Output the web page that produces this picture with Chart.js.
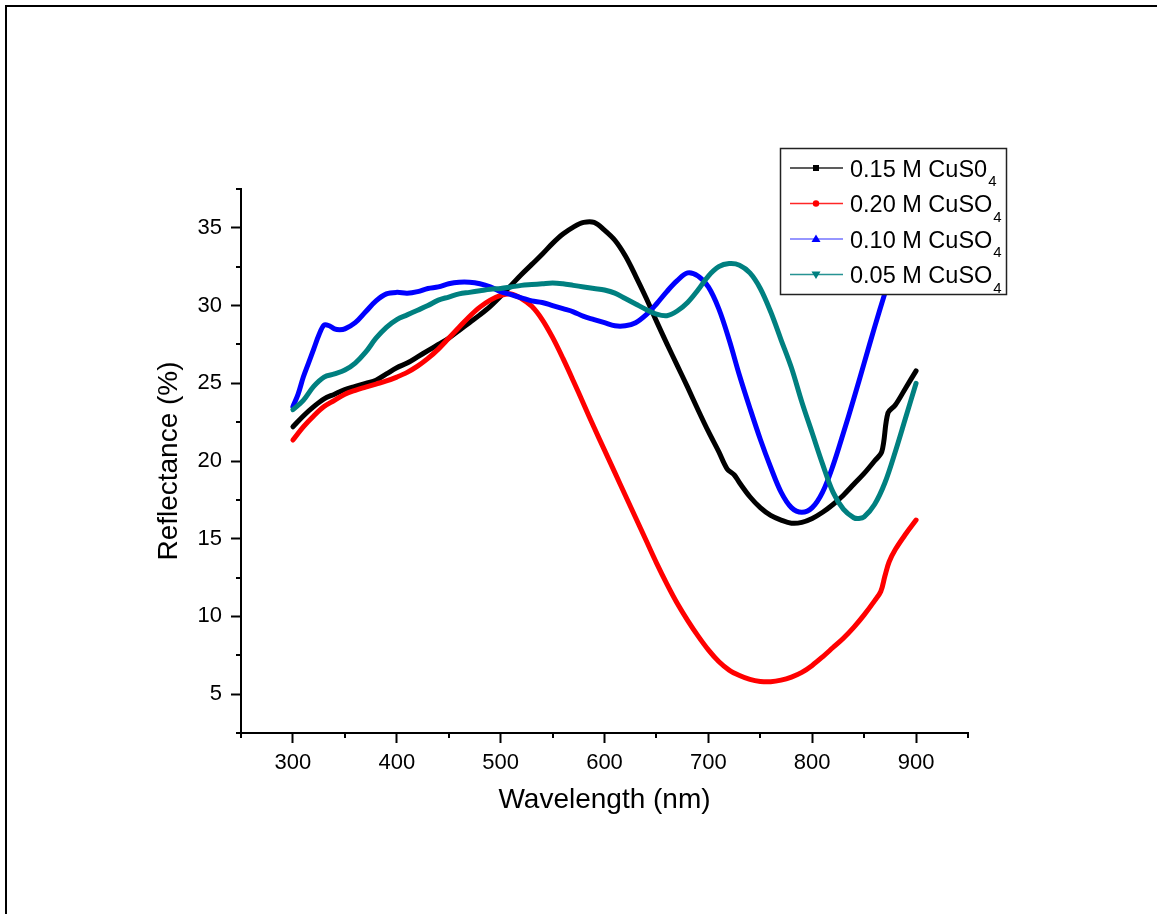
<!DOCTYPE html>
<html><head><meta charset="utf-8">
<script src="https://cdn.jsdelivr.net/npm/chart.js@4.4.1/dist/chart.umd.min.js"></script>
<style>html,body{margin:0;padding:0;background:#fff;} canvas{display:block;}</style>
</head><body>
<canvas id="c" width="1157" height="914"></canvas>
<script>
// ---- data ----
const labelsBase = ['0.15 M CuS0', '0.20 M CuSO', '0.10 M CuSO', '0.05 M CuSO'];
const labelsSub = ['4', '4', '4', '4'];
const seriesColors = ['#000000', '#ff0000', '#0000ff', '#008080'];

const blackX = [300,310,320,330,340,350,360,370,380,390,400,410,420,430,440,450,460,470,480,490,500,510,520,530,540,550,560,570,580,590,600,610,620,630,640,650,660,670,680,690,700,710,718,725,730,740,750,760,770,780,790,800,810,820,830,840,850,860,867,873,880,890,900];
const blackY = [22.2,22.9,23.5,24.0,24.3,24.6,24.8,25.0,25.2,25.6,26.0,26.3,26.7,27.1,27.5,27.9,28.4,28.9,29.4,29.95,30.6,31.3,32.0,32.65,33.3,34.0,34.6,35.05,35.35,35.35,34.85,34.2,33.2,31.9,30.5,29.0,27.55,26.15,24.75,23.3,21.9,20.6,19.5,19.1,18.6,17.7,17.0,16.5,16.2,16.0,16.05,16.3,16.7,17.2,17.8,18.5,19.2,20.0,20.6,23.1,23.6,24.7,25.8];

const redX = [300,310,320,330,340,350,360,370,380,390,400,410,420,430,440,450,460,470,480,490,500,510,520,530,540,550,560,570,580,590,600,610,620,630,640,650,660,670,680,690,700,710,720,730,740,750,760,770,780,790,800,810,820,830,840,850,860,866,870,874,880,890,900];
const redY = [21.35,22.2,22.9,23.5,23.9,24.3,24.55,24.75,24.95,25.15,25.4,25.7,26.1,26.6,27.2,27.9,28.6,29.3,29.9,30.35,30.65,30.75,30.45,29.95,29.1,27.95,26.6,25.15,23.65,22.15,20.7,19.25,17.8,16.35,14.9,13.45,12.1,10.85,9.75,8.75,7.85,7.1,6.55,6.2,5.95,5.82,5.8,5.9,6.1,6.4,6.85,7.4,8.0,8.6,9.3,10.1,11.0,11.6,12.6,13.5,14.3,15.3,16.2];

const blueX = [300,305,310,315,320,325,330,335,340,345,350,360,370,380,390,400,410,420,430,440,450,460,470,480,490,500,510,520,530,540,550,560,570,580,590,600,610,620,630,640,650,660,670,680,690,700,710,720,730,740,750,760,770,780,790,800,810,820,830,840,850,860,870,880,890,900];
const blueY = [23.5,24.3,25.4,26.3,27.2,28.1,28.75,28.7,28.5,28.45,28.5,28.9,29.6,30.3,30.75,30.85,30.8,30.9,31.1,31.2,31.4,31.5,31.5,31.4,31.2,30.9,30.7,30.5,30.3,30.2,30.0,29.8,29.6,29.3,29.1,28.9,28.7,28.7,28.9,29.4,30.1,30.9,31.6,32.1,31.9,31.2,29.8,27.8,25.5,23.4,21.4,19.6,18.0,17.0,16.7,17.0,18.0,19.7,21.8,24.0,26.3,28.6,30.8,32.9,34.9,36.8];

const tealX = [300,310,320,330,340,350,360,370,380,390,400,410,420,430,440,450,460,470,480,490,500,510,520,530,540,550,560,570,580,590,600,610,620,630,640,650,660,670,680,690,700,710,720,730,740,750,760,770,780,790,800,810,820,830,840,845,850,860,870,880,890,900];
const tealY = [23.3,23.9,24.8,25.4,25.6,25.85,26.3,27.0,27.9,28.6,29.1,29.4,29.7,30.0,30.35,30.55,30.75,30.85,30.95,31.05,31.1,31.2,31.3,31.35,31.4,31.45,31.4,31.3,31.2,31.1,31.0,30.8,30.45,30.1,29.75,29.45,29.35,29.65,30.2,31.0,31.9,32.5,32.7,32.6,32.1,31.1,29.6,27.8,26.0,23.8,21.8,19.8,18.0,16.9,16.35,16.3,16.4,17.2,18.6,20.6,22.8,25.0];

const xMajorTicks = [300,400,500,600,700,800,900];
const yMajorTicks = [5,10,15,20,25,30,35];

const seriesX = [blackX, redX, blueX, tealX];
const seriesY = [blackY, redY, blueY, tealY];

const FONT = '"Liberation Sans", Arial, sans-serif';

function pts(xs, ys) { return xs.map((x, i) => ({x: x, y: ys[i]})); }

const datasets = seriesX.map((xs, i) => ({
  label: labelsBase[i] + '\u2084',
  data: pts(xs, seriesY[i]),
  borderColor: seriesColors[i],
  backgroundColor: seriesColors[i],
  borderWidth: 5,
  pointRadius: 0,
  tension: 0.35,
  borderJoinStyle: 'round',
  borderCapStyle: 'round',
  fill: false,
  order: 4 - i
}));

const framePlugin = {
  id: 'frame',
  beforeDraw(chart) {
    const ctx = chart.ctx;
    ctx.save();
    ctx.fillStyle = '#fff';
    ctx.fillRect(0, 0, chart.width, chart.height);
    ctx.fillStyle = '#000';
    ctx.fillRect(5, 5, chart.width - 5, 2);
    ctx.fillRect(5, 5, 2, chart.height - 5);
    ctx.restore();
  }
};

const minorTickPlugin = {
  id: 'minorTicks',
  afterDraw(chart) {
    const ctx = chart.ctx, xs = chart.scales.x, ys = chart.scales.y;
    ctx.save();
    ctx.strokeStyle = '#000';
    ctx.lineWidth = 2;
    xs.ticks.forEach(t => {
      if (!xMajorTicks.includes(t.value)) {
        const px = Math.round(xs.getPixelForValue(t.value));
        ctx.beginPath(); ctx.moveTo(px, xs.top); ctx.lineTo(px, xs.top + 5); ctx.stroke();
      }
    });
    ys.ticks.forEach(t => {
      if (!yMajorTicks.some(v => Math.abs(v - t.value) < 1e-6)) {
        const py = Math.round(ys.getPixelForValue(t.value));
        ctx.beginPath(); ctx.moveTo(ys.right, py); ctx.lineTo(ys.right - 5, py); ctx.stroke();
      }
    });
    ctx.restore();
  }
};

const legendPlugin = {
  id: 'customLegend',
  afterDraw(chart) {
    const ctx = chart.ctx;
    const bx = 780, by = 148, bw = 226, bh = 146;
    ctx.save();
    ctx.fillStyle = '#fff';
    ctx.fillRect(bx, by, bw, bh);
    ctx.strokeStyle = '#222';
    ctx.lineWidth = 1.5;
    ctx.strokeRect(bx + 0.5, by + 0.5, bw, bh);
    const rowY = [168, 203.5, 239, 274.5];
    chart.data.datasets.forEach((ds, i) => {
      const y = rowY[i];
      const col = ds.borderColor;
      ctx.strokeStyle = col;
      ctx.globalAlpha = (i === 2) ? 0.55 : 0.85;
      ctx.lineWidth = 1.5;
      ctx.beginPath(); ctx.moveTo(790, y); ctx.lineTo(843, y); ctx.stroke();
      ctx.globalAlpha = 1;
      ctx.fillStyle = col;
      const cx = 816;
      ctx.beginPath();
      if (i === 0) { ctx.rect(cx - 3, y - 3, 6, 6); }
      else if (i === 1) { ctx.arc(cx, y, 3.2, 0, Math.PI * 2); }
      else if (i === 2) { ctx.moveTo(cx, y - 4.5); ctx.lineTo(cx + 4.5, y + 3); ctx.lineTo(cx - 4.5, y + 3); ctx.closePath(); }
      else { ctx.moveTo(cx, y + 4.5); ctx.lineTo(cx + 4.5, y - 3); ctx.lineTo(cx - 4.5, y - 3); ctx.closePath(); }
      ctx.fill();
      ctx.fillStyle = '#000';
      ctx.font = '23.5px ' + FONT;
      ctx.textBaseline = 'alphabetic';
      ctx.textAlign = 'left';
      const base = labelsBase[i];
      ctx.fillText(base, 850, y + 8.5);
      const w = ctx.measureText(base).width;
      ctx.font = '15px ' + FONT;
      ctx.fillText(labelsSub[i], 850 + w + 1, y + 18);
    });
    ctx.restore();
  }
};

new Chart(document.getElementById('c'), {
  type: 'line',
  data: { datasets: datasets },
  plugins: [framePlugin, minorTickPlugin, legendPlugin],
  options: {
    responsive: false,
    animation: false,
    devicePixelRatio: 1,
    layout: { padding: { left: 0, right: 189, top: 189, bottom: 81 } },
    plugins: { legend: { display: false }, tooltip: { enabled: false } },
    scales: {
      x: {
        type: 'linear', min: 250, max: 950,
        afterFit(s) { s.height = 100; },
        ticks: {
          stepSize: 50, autoSkip: false, maxRotation: 0, color: '#000', padding: 7,
          font: { family: FONT, size: 22 },
          callback: v => xMajorTicks.includes(v) ? String(v) : ''
        },
        grid: {
          display: true, drawOnChartArea: false, drawTicks: true, tickLength: 10, tickWidth: 2,
          tickColor: c => (c.tick && xMajorTicks.includes(c.tick.value)) ? '#000' : 'rgba(0,0,0,0)'
        },
        border: { display: true, color: '#000', width: 2 },
        title: { display: true, text: 'Wavelength (nm)', color: '#000', font: { family: FONT, size: 28 }, padding: { top: 0, bottom: 16 } }
      },
      y: {
        type: 'linear', min: 2.5, max: 37.5,
        afterFit(s) { s.width = 241; },
        ticks: {
          stepSize: 2.5, autoSkip: false, color: '#000', padding: 9,
          font: { family: FONT, size: 22 },
          callback: v => yMajorTicks.some(m => Math.abs(m - v) < 1e-6) ? String(Math.round(v)) : ''
        },
        grid: {
          display: true, drawOnChartArea: false, drawTicks: true, tickLength: 10, tickWidth: 2,
          tickColor: c => (c.tick && yMajorTicks.some(m => Math.abs(m - c.tick.value) < 1e-6)) ? '#000' : 'rgba(0,0,0,0)'
        },
        border: { display: true, color: '#000', width: 2 },
        title: { display: true, text: 'Reflectance (%)', color: '#000', font: { family: FONT, size: 28 }, padding: { top: 152, bottom: 0 } }
      }
    }
  }
});
</script>
</body></html>
